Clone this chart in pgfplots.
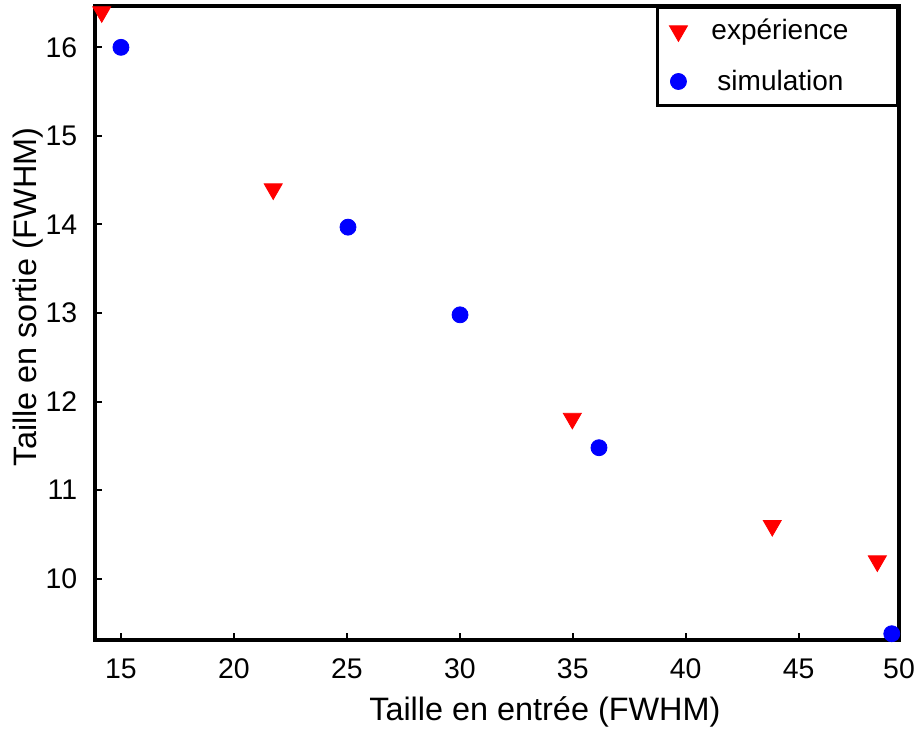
\documentclass[border=0pt]{standalone}
\usepackage{pgfplots}
\pgfplotsset{compat=1.18}
\usepackage{fontspec}
\setmainfont{Liberation Sans}
\begin{document}
\begin{tikzpicture}
\begin{axis}[
  name=ax,
  scale only axis,
  width=402pt, height=317pt,
  xmin=13.84, xmax=49.44,
  ymin=9.31, ymax=16.47,
  xtick={15,20,25,30,35,40,45},
  ytick={10,11,12,13,14,15,16},
  extra x ticks={49.44},
  extra x tick labels={50},
  extra x tick style={major tick length=0pt},
  tick align=inside,
  xtick pos=bottom, ytick pos=left,
  major tick length=3.5pt,
  every tick/.style={black, line width=1pt},
  axis line style={line width=2pt},
  /pgf/number format/assume math mode=true,
  ticklabel style={font=\fontsize{14.2}{17}\selectfont},
  xticklabel style={anchor=base, yshift=-19.5pt},
  yticklabel style={anchor=east, inner sep=0pt, xshift=-8.6pt},
  label style={font=\fontsize{16.2}{19}\selectfont},
  xlabel={Taille en entrée (FWHM)},
  ylabel={Taille en sortie (FWHM)},
  xlabel style={at={(axis description cs:0.5,0)}, anchor=base, xshift=24pt, yshift=-40.5pt},
  ylabel style={at={(axis description cs:0,0.5)}, anchor=center, xshift=13pt, yshift=33.4pt},
  clip=false,
  axis on top,
  legend style={at={(1,1)}, anchor=north east, draw=black, line width=1.5pt,
    font=\fontsize{14}{17}\selectfont, row sep=9.5pt, inner xsep=6pt, inner ysep=4pt,
    legend cell align=left},
  legend image post style={line width=0.4pt},
]
\addplot[only marks, mark=triangle*, mark size=5.2pt, color=red, mark options={rotate=180, fill=red, draw=red}]
coordinates {(14.15,16.40) (21.74,14.40) (34.98,11.81) (43.83,10.60) (48.48,10.20)};
\addlegendentry{\hspace*{10pt}expérience\hspace*{16.5pt}}
\addplot[only marks, mark=*, mark size=4pt, color=blue, mark options={fill=blue, draw=blue}]
coordinates {(15,16) (25.05,13.97) (30.01,12.98) (36.16,11.48) (49.12,9.38)};
\addlegendentry{\hspace*{13pt}simulation}
\end{axis}
\pgfresetboundingbox
\path ([xshift=-47.35pt,yshift=-44.5pt]ax.south west) rectangle ([xshift=7.5pt,yshift=2.85pt]ax.north east);
\end{tikzpicture}
\end{document}
